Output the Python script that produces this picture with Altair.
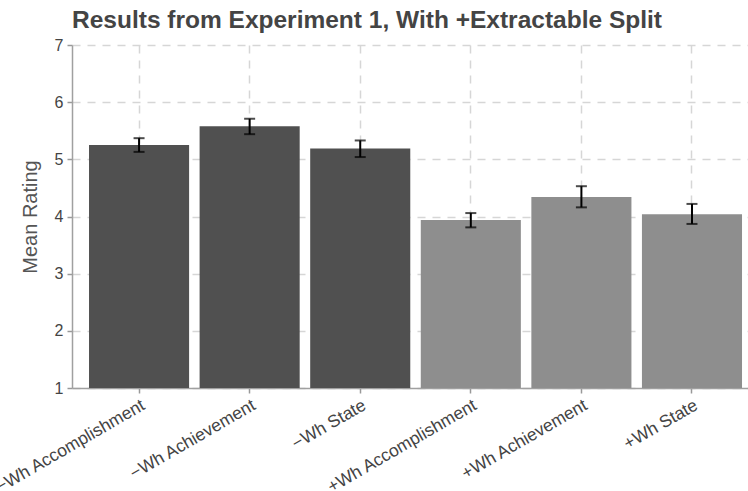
import altair as alt
import pandas as pd

# Condition labels, mean ratings and error-bar limits
conditions = [
    "\u2212Wh Accomplishment",
    "\u2212Wh Achievement",
    "\u2212Wh State",
    "+Wh Accomplishment",
    "+Wh Achievement",
    "+Wh State",
]
groups = ["\u2212Wh", "\u2212Wh", "\u2212Wh", "+Wh", "+Wh", "+Wh"]
mean_rating = [5.25, 5.58, 5.19, 3.94, 4.34, 4.04]
err_low = [5.13, 5.44, 5.04, 3.81, 4.16, 3.87]
err_high = [5.37, 5.71, 5.33, 4.06, 4.53, 4.22]

df = pd.DataFrame({
    "condition": conditions,
    "group": groups,
    "mean": mean_rating,
    "low": err_low,
    "high": err_high,
})

x_enc = alt.X(
    "condition:N",
    sort=conditions,
    title=None,
    scale=alt.Scale(paddingInner=0.095, paddingOuter=0.104, align=0.74),
    axis=alt.Axis(
        labelAngle=-30,
        labelFontSize=17.5,
        labelColor="#444444",
        labelPadding=3,
        grid=True,
        gridDash=[8, 7],
        gridColor="#d6d6d6",
        gridWidth=1.5,
        tickColor="#999999",
        tickSize=5,
        tickWidth=1.5,
        domainColor="#a0a0a0",
        domainWidth=1.5,
    ),
)

y_scale = alt.Scale(domain=[1, 7], zero=False, nice=False)

bars = alt.Chart(df).mark_bar().encode(
    x=x_enc,
    y=alt.Y(
        "mean:Q",
        scale=y_scale,
        title="Mean Rating",
        axis=alt.Axis(
            values=[1, 2, 3, 4, 5, 6, 7],
            format="d",
            labelFontSize=16,
            labelColor="#444444",
            labelPadding=4,
            titleFontSize=20,
            titleFontWeight="normal",
            titleColor="#555555",
            titlePadding=14,
            grid=True,
            gridDash=[8, 7],
            gridColor="#d6d6d6",
            gridWidth=1.5,
            tickColor="#999999",
            tickSize=5,
            tickWidth=1.5,
            domainColor="#a0a0a0",
            domainWidth=1.5,
        ),
    ),
    y2=alt.datum(1),
    color=alt.Color(
        "group:N",
        scale=alt.Scale(domain=["\u2212Wh", "+Wh"], range=["#505050", "#8e8e8e"]),
        legend=None,
    ),
)

err_line = alt.Chart(df).mark_rule(color="black", strokeWidth=2).encode(
    x=alt.X("condition:N", sort=conditions),
    y=alt.Y("low:Q", scale=y_scale),
    y2="high:Q",
)

cap_low = alt.Chart(df).mark_tick(color="black", size=11, thickness=2).encode(
    x=alt.X("condition:N", sort=conditions),
    y=alt.Y("low:Q", scale=y_scale),
)

cap_high = alt.Chart(df).mark_tick(color="black", size=11, thickness=2).encode(
    x=alt.X("condition:N", sort=conditions),
    y=alt.Y("high:Q", scale=y_scale),
)

chart = (
    alt.layer(bars, err_line, cap_low, cap_high)
    .properties(
        width=676,
        height=343,
        title=alt.TitleParams(
            "Results from Experiment 1, With +Extractable Split",
            anchor="start",
            frame="group",
            fontSize=24.5,
            fontWeight="bold",
            color="#444444",
            font="Liberation Sans",
            offset=4,
        ),
        autosize=alt.AutoSizeParams(type="none"),
        padding={"left": 72, "top": 45, "right": 0, "bottom": 103},
    )
    .configure(font="Liberation Sans")
    .configure_view(stroke=None)
)

chart.save("out.html", embed_options={"renderer": "svg", "actions": False})
